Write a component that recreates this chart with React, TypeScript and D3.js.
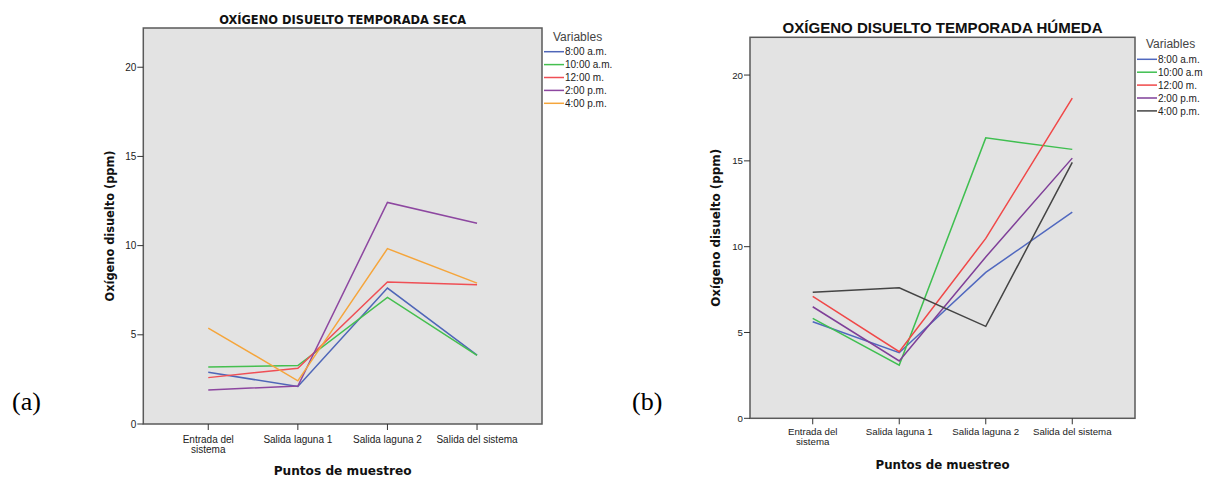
import React from "react";
import * as d3 from "d3";

// sampling points (x axis)
const puntos = [["Entrada del", "sistema"], ["Salida laguna 1"], ["Salida laguna 2"], ["Salida del sistema"]];
const yTicks = [0, 5, 10, 15, 20];

// dry season (a)
const secaNames = ["8:00 a.m.", "10:00 a.m.", "12:00 m.", "2:00 p.m.", "4:00 p.m."];
const seca8 = [2.9, 2.1, 7.62, 3.86];
const seca10 = [3.2, 3.28, 7.1, 3.85];
const seca12 = [2.6, 3.13, 7.96, 7.81];
const seca14 = [1.91, 2.13, 12.42, 11.25];
const seca16 = [5.38, 2.42, 9.83, 7.9];

// wet season (b)
const humNames = ["8:00 a.m.", "10:00 a.m", "12:00 m.", "2:00 p.m.", "4:00 p.m."];
const hum8 = [5.63, 3.82, 8.5, 12.02];
const hum10 = [5.82, 3.1, 16.34, 15.67];
const hum12 = [7.1, 3.88, 10.48, 18.66];
const hum14 = [6.5, 3.34, 9.4, 15.16];
const hum16 = [7.34, 7.61, 5.36, 14.91];

const secaColors = ["#4f66b8", "#45bf4f", "#ef4f55", "#8d47a0", "#f5a53b"];
const humColors = ["#5068bf", "#3fbf50", "#f04848", "#7f3f98", "#444444"];

const sans = "'Liberation Sans', Arial, sans-serif";

type ChartProps = {
  title: string;
  titleFont: string;
  titleSize: number;
  titleLen: number;
  titleY: number;
  left: number;
  right: number;
  top: number;
  bottom: number;
  series: number[][];
  names: string[];
  colors: string[];
  legendX: number;
  legendY: number;
  tickLabelY: number;
  tickSize: number;
  ylabX: number;
  ylabLen: number;
  xlabY: number;
  xlabLen: number;
};

const Chart = (p: ChartProps) => {
  const x = d3.scalePoint<number>().domain(d3.range(puntos.length)).range([p.left, p.right]).padding(0.725);
  const y = d3.scaleLinear().domain([0, 22.2]).range([p.bottom, p.top]);
  const line = d3
    .line<number>()
    .x((_, i) => x(i)!)
    .y((d) => y(d));
  const cx = (p.left + p.right) / 2;
  const cy = (p.top + p.bottom) / 2;

  return (
    <g>
      <text x={cx} y={p.titleY} textAnchor="middle" fontFamily={p.titleFont} fontWeight="bold"
        fontSize={p.titleSize} textLength={p.titleLen} lengthAdjust="spacingAndGlyphs" fill="#111">
        {p.title}
      </text>
      <rect x={p.left} y={p.top} width={p.right - p.left} height={p.bottom - p.top} fill="#e3e3e3" />
      {p.series.map((s, i) => (
        <path key={i} d={line(s)!} fill="none" stroke={p.colors[i]} strokeWidth={1.5} />
      ))}
      <rect x={p.left} y={p.top} width={p.right - p.left} height={p.bottom - p.top} fill="none"
        stroke="#5a5a5a" strokeWidth={1.5} />
      {/* y axis */}
      {yTicks.map((t) => (
        <g key={t}>
          <line x1={p.left - 6} x2={p.left} y1={y(t)} y2={y(t)} stroke="#333" />
          <text x={p.left - 7} y={y(t) + 3.5} textAnchor="end" fontFamily={sans} fontSize={p.tickSize} fill="#222">
            {t}
          </text>
        </g>
      ))}
      {/* x axis */}
      {puntos.map((lab, i) => (
        <g key={i}>
          <line x1={x(i)} x2={x(i)} y1={p.bottom} y2={p.bottom + 6} stroke="#333" />
          {lab.map((l, j) => (
            <text key={j} x={x(i)} y={p.tickLabelY + j * 10} textAnchor="middle" fontFamily={sans}
              fontSize={p.tickSize} fill="#222">
              {l}
            </text>
          ))}
        </g>
      ))}
      <text transform={`translate(${p.ylabX},${cy}) rotate(-90)`} textAnchor="middle" fontFamily="'DejaVu Sans', sans-serif"
        fontWeight="bold" fontSize={11.5} textLength={p.ylabLen} lengthAdjust="spacingAndGlyphs" fill="#111">
        Oxígeno disuelto (ppm)
      </text>
      <text x={cx} y={p.xlabY} textAnchor="middle" fontFamily="'DejaVu Sans', sans-serif" fontWeight="bold"
        fontSize={12} textLength={p.xlabLen} lengthAdjust="spacingAndGlyphs" fill="#111">
        Puntos de muestreo
      </text>
      {/* legend */}
      <text x={p.legendX + 9} y={p.legendY - 11} fontFamily={sans} fontSize={12} fill="#444">
        Variables
      </text>
      {p.names.map((n, i) => (
        <g key={n} transform={`translate(${p.legendX},${p.legendY + i * 12.9})`}>
          <line x1={0} x2={20} y1={0} y2={0} stroke={p.colors[i]} strokeWidth={1.5} />
          <text x={21} y={3.6} fontFamily={sans} fontSize={10} fill="#222">
            {n}
          </text>
        </g>
      ))}
    </g>
  );
};

const App = () => (
  <svg width={1206} height={478} style={{ position: "absolute", left: 0, top: 0, background: "#fff" }}>
    <Chart
      title="OXÍGENO DISUELTO TEMPORADA SECA"
      titleFont="'DejaVu Sans Condensed', 'DejaVu Sans', sans-serif"
      titleSize={13}
      titleLen={247}
      titleY={23.5}
      left={143.3}
      right={542}
      top={28}
      bottom={424}
      series={[seca8, seca10, seca12, seca14, seca16]}
      names={secaNames}
      colors={secaColors}
      legendX={544}
      legendY={51.7}
      tickLabelY={442.5}
      tickSize={10}
      ylabX={114}
      ylabLen={151}
      xlabY={475}
      xlabLen={138}
    />
    <Chart
      title="OXÍGENO DISUELTO TEMPORADA HÚMEDA"
      titleFont={sans}
      titleSize={15}
      titleLen={320}
      titleY={32.5}
      left={750}
      right={1135}
      top={37.3}
      bottom={418.3}
      series={[hum8, hum10, hum12, hum14, hum16]}
      names={humNames}
      colors={humColors}
      legendX={1137}
      legendY={59.3}
      tickLabelY={435}
      tickSize={9.7}
      ylabX={720}
      ylabLen={158}
      xlabY={469}
      xlabLen={134}
    />
    <text x={12} y={410} fontFamily="'Liberation Serif', serif" fontSize={26} fill="#000">(a)</text>
    <text x={632} y={410} fontFamily="'Liberation Serif', serif" fontSize={26} fill="#000">(b)</text>
  </svg>
);

export default App;
